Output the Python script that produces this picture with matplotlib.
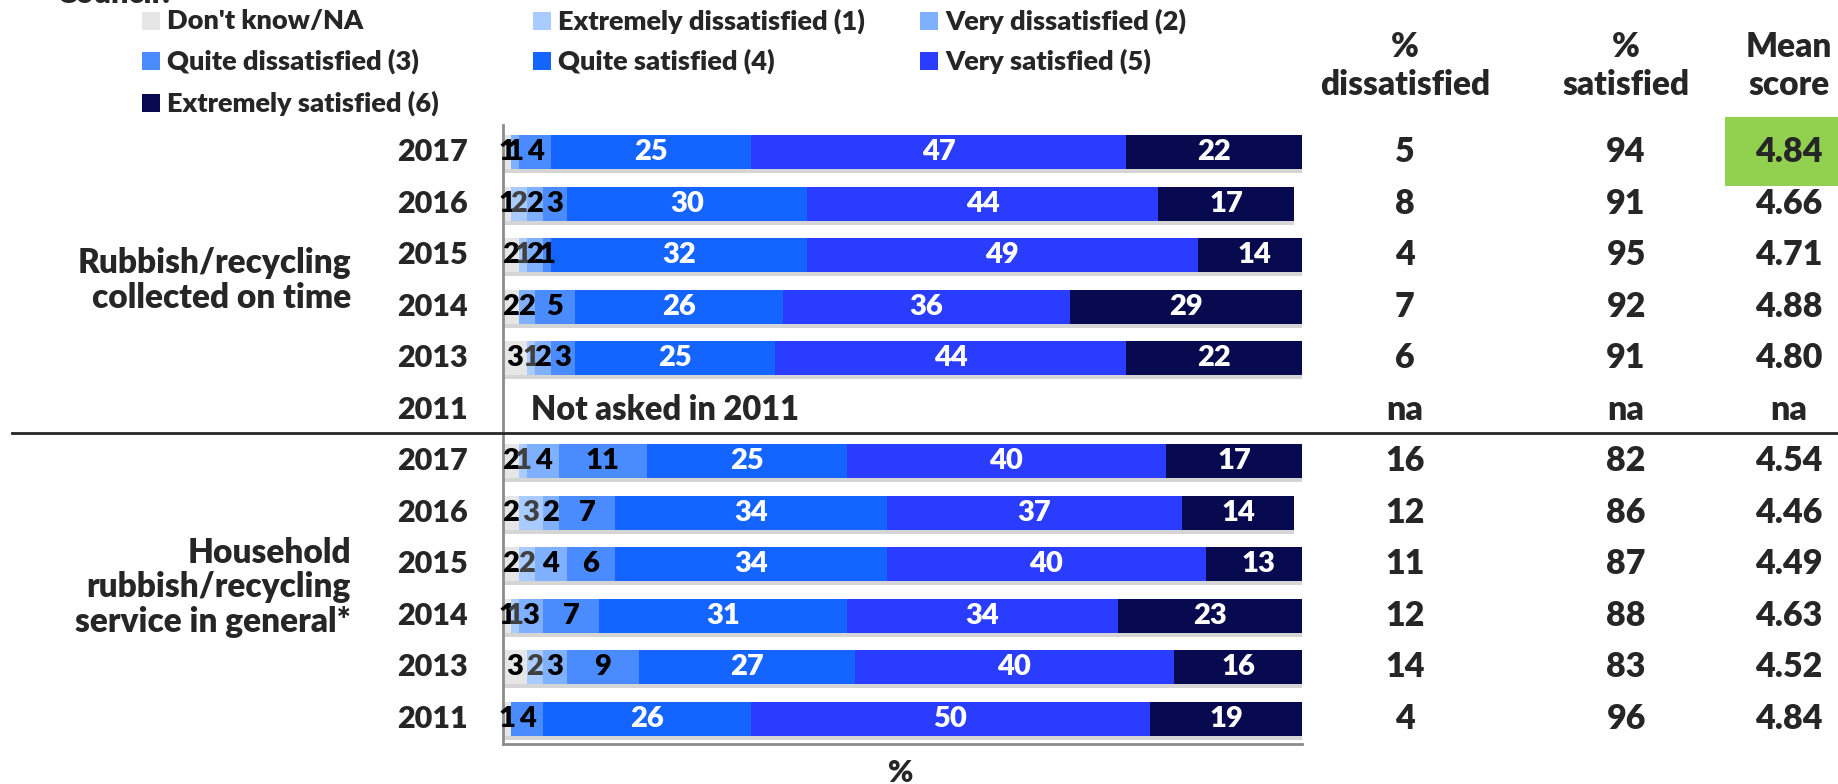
import matplotlib.pyplot as plt
import matplotlib.patheffects as pe
from matplotlib.patches import Rectangle
from matplotlib.transforms import blended_transform_factory

plt.rcParams['font.family'] = ['Lato', 'DejaVu Sans']
plt.rcParams['font.weight'] = 'heavy'

# rows top to bottom: first block is "collected on time", second is "service in general"
years = ['2017', '2016', '2015', '2014', '2013', '2011',
         '2017', '2016', '2015', '2014', '2013', '2011']
groups = ['Rubbish/recycling\ncollected on time',
          'Household\nrubbish/recycling\nservice in general*']

categories = ["Don't know/NA", 'Extremely dissatisfied (1)', 'Very dissatisfied (2)',
              'Quite dissatisfied (3)', 'Quite satisfied (4)', 'Very satisfied (5)',
              'Extremely satisfied (6)']
dont_know = [1, 1, 2, 2, 3, 0, 2, 2, 2, 1, 3, 1]
ext_dis = [0, 2, 1, 0, 1, 0, 1, 3, 2, 1, 2, 0]
very_dis = [1, 2, 2, 2, 2, 0, 4, 2, 4, 3, 3, 0]
quite_dis = [4, 3, 1, 5, 3, 0, 11, 7, 6, 7, 9, 4]
quite_sat = [25, 30, 32, 26, 25, 0, 25, 34, 34, 31, 27, 26]
very_sat = [47, 44, 49, 36, 44, 0, 40, 37, 40, 34, 40, 50]
ext_sat = [22, 17, 14, 29, 22, 0, 17, 14, 13, 23, 16, 19]
series = [dont_know, ext_dis, very_dis, quite_dis, quite_sat, very_sat, ext_sat]

pct_dis = ['5', '8', '4', '7', '6', 'na', '16', '12', '11', '12', '14', '4']
pct_sat = ['94', '91', '95', '92', '91', 'na', '82', '86', '87', '88', '83', '96']
mean_score = ['4.84', '4.66', '4.71', '4.88', '4.80', 'na',
              '4.54', '4.46', '4.49', '4.63', '4.52', '4.84']

colors = ['#e6e6e6', '#a9cbff', '#7fb0ff', '#4a8cff', '#1464ff', '#2a3dff', '#070a4e']
label_colors = ['black', '#404040', 'black', 'black', 'white', 'white', 'white']
dark = '#262626'

fig = plt.figure(figsize=(18.38, 7.84), dpi=100)
ax = fig.add_axes([0.2737, 0.051, 0.4347, 0.7895])

shadow = [pe.withSimplePatchShadow(offset=(0, -3), shadow_rgbFace='#888888', alpha=0.35)]
ypos = list(range(len(years)))
left = [0] * len(years)
for vals, col, lcol in zip(series, colors, label_colors):
    bars = ax.barh(ypos, vals, left=left, height=0.66, color=col, edgecolor='none')
    for b, v in zip(bars, vals):
        b.set_path_effects(shadow)
        if v > 0:
            ax.text(b.get_x() + b.get_width() / 2, b.get_y() + b.get_height() / 2, str(v),
                    ha='center', va='center', color=lcol, fontsize=21)
    left = [l + v for l, v in zip(left, vals)]

ax.text(3.5, 5, 'Not asked in 2011', ha='left', va='center', fontsize=23.5, color=dark)

ax.set_xlim(0, 100)
ax.set_ylim(11.495, -0.524)
ax.set_xticks([])
ax.set_yticks([])
for s in ['top', 'right']:
    ax.spines[s].set_visible(False)
for s in ['left', 'bottom']:
    ax.spines[s].set_color('#8c8c8c')
    ax.spines[s].set_linewidth(2)

tr = blended_transform_factory(fig.transFigure, ax.transData)
for i, yr in enumerate(years):
    fig.text(0.2546, i, yr, transform=tr, ha='right', va='center', fontsize=22, color=dark)
    fig.text(0.7644, i, pct_dis[i], transform=tr, ha='center', va='center', fontsize=24.5, color=dark)
    fig.text(0.8847, i, pct_sat[i], transform=tr, ha='center', va='center', fontsize=24.5, color=dark)
    fig.text(0.9734, i, mean_score[i], transform=tr, ha='center', va='center', fontsize=24.5,
             color=dark, zorder=3)

fig.text(0.191, 2.5, groups[0], transform=tr, ha='right', va='center', fontsize=24,
         color=dark, linespacing=1.1)
fig.text(0.191, 8.45, groups[1], transform=tr, ha='right', va='center', fontsize=24,
         color=dark, linespacing=1.1)

# divider between the two blocks
fig.add_artist(plt.Line2D([0.0065, 1.0], [1 - 433 / 784] * 2, color=dark, lw=2))

# column headers
for x, txt in [(0.7644, '%\ndissatisfied'), (0.8847, '%\nsatisfied'), (0.9734, 'Mean\nscore')]:
    fig.text(x, 0.916, txt, ha='center', va='center', fontsize=24, color=dark, linespacing=1.25)

# highlighted mean score
fig.add_artist(Rectangle((0.9385, 0.7628), 0.0615, 0.088, transform=fig.transFigure,
                         facecolor='#92d050', edgecolor='none', zorder=1))

# legend
leg_pos = [(142, 21), (533, 21), (920, 21), (142, 61), (533, 61), (920, 61), (142, 103)]
for (px, py), name, col in zip(leg_pos, categories, colors):
    fig.add_artist(Rectangle((px / 1838, 1 - (py + 9) / 784), 18 / 1838, 18 / 784,
                             transform=fig.transFigure, facecolor=col, edgecolor='none'))
    fig.text((px + 25) / 1838, 1 - py / 784, name, ha='left', va='center',
             fontsize=19.5, color=dark)

fig.text(56 / 1838, 1 - 3 / 784, 'Council?', ha='left', va='baseline', fontsize=22, color=dark)
fig.text(0.49, 1 - 773 / 784, '%', ha='center', va='center', fontsize=22, color=dark)

fig.savefig('out.png', dpi=100)
